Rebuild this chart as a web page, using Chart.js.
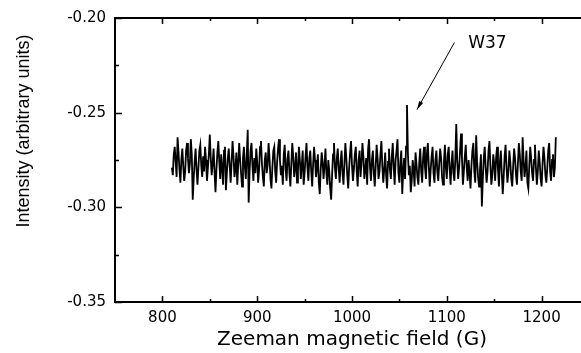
<!DOCTYPE html>
<html>
<head>
<meta charset="utf-8">
<script src="https://cdn.jsdelivr.net/npm/chart.js@4.4.1/dist/chart.umd.min.js"></script>
<style>
  html, body { margin: 0; padding: 0; background: #fff; overflow: hidden; }
  canvas { display: block; }
</style>
</head>
<body>
<canvas id="zeemanChart" width="600" height="353"></canvas>
<script>
// field grid (G): first point and spacing
const fieldStart = 810;
const fieldStep = 1;

// intensity, one value per gauss from 810 to 1215 G
const intensity = [
  -0.2790, -0.2830, -0.2720, -0.2680, -0.2760, -0.2840, -0.2630, -0.2710, -0.2800, -0.2870,
  -0.2750, -0.2690, -0.2780, -0.2860, -0.2810, -0.2700, -0.2660, -0.2740, -0.2820, -0.2770,
  -0.2640, -0.2720, -0.2960, -0.2850, -0.2760, -0.2690, -0.2800, -0.2880, -0.2790, -0.2700,
  -0.2670, -0.2780, -0.2840, -0.2730, -0.2810, -0.2680, -0.2750, -0.2860, -0.2790, -0.2720,
  -0.2616, -0.2740, -0.2830, -0.2770, -0.2690, -0.2810, -0.2920, -0.2800, -0.2710, -0.2650,
  -0.2760, -0.2850, -0.2720, -0.2790, -0.2880, -0.2700, -0.2680, -0.2910, -0.2820, -0.2740,
  -0.2690, -0.2780, -0.2870, -0.2760, -0.2650, -0.2730, -0.2840, -0.2800, -0.2710, -0.2880,
  -0.2770, -0.2660, -0.2750, -0.2820, -0.2890, -0.2740, -0.2680, -0.2790, -0.2850, -0.2720,
  -0.2590, -0.2975, -0.2810, -0.2700, -0.2660, -0.2780, -0.2860, -0.2740, -0.2820, -0.2690,
  -0.2760, -0.2870, -0.2800, -0.2680, -0.2650, -0.2770, -0.2840, -0.2890, -0.2750, -0.2710,
  -0.2820, -0.2780, -0.2660, -0.2740, -0.2850, -0.2900, -0.2790, -0.2700, -0.2680, -0.2810,
  -0.2870, -0.2760, -0.2690, -0.2640, -0.2750, -0.2830, -0.2780, -0.2880, -0.2720, -0.2670,
  -0.2800, -0.2860, -0.2740, -0.2700, -0.2820, -0.2890, -0.2770, -0.2660, -0.2730, -0.2840,
  -0.2790, -0.2710, -0.2870, -0.2810, -0.2680, -0.2750, -0.2850, -0.2780, -0.2700, -0.2880,
  -0.2820, -0.2730, -0.2660, -0.2790, -0.2860, -0.2740, -0.2700, -0.2810, -0.2890, -0.2770,
  -0.2680, -0.2750, -0.2840, -0.2790, -0.2720, -0.2870, -0.2930, -0.2800, -0.2710, -0.2760,
  -0.2850, -0.2780, -0.2690, -0.2820, -0.2880, -0.2750, -0.2810, -0.2900, -0.2960, -0.2830,
  -0.2720, -0.2660, -0.2790, -0.2850, -0.2740, -0.2690, -0.2800, -0.2870, -0.2760, -0.2700,
  -0.2820, -0.2880, -0.2770, -0.2660, -0.2740, -0.2830, -0.2900, -0.2790, -0.2710, -0.2650,
  -0.2780, -0.2860, -0.2800, -0.2720, -0.2680, -0.2810, -0.2890, -0.2750, -0.2700, -0.2840,
  -0.2770, -0.2660, -0.2730, -0.2850, -0.2800, -0.2740, -0.2880, -0.2690, -0.2640, -0.2790,
  -0.2860, -0.2750, -0.2700, -0.2820, -0.2890, -0.2780, -0.2670, -0.2740, -0.2850, -0.2810,
  -0.2720, -0.2650, -0.2780, -0.2870, -0.2800, -0.2710, -0.2830, -0.2900, -0.2760, -0.2690,
  -0.2800, -0.2850, -0.2730, -0.2660, -0.2790, -0.2880, -0.2750, -0.2700, -0.2640, -0.2820,
  -0.2870, -0.2760, -0.2700, -0.2930, -0.2810, -0.2740, -0.2850, -0.2680, -0.2460, -0.2720,
  -0.2830, -0.2780, -0.2920, -0.2860, -0.2750, -0.2800, -0.2890, -0.2710, -0.2770, -0.2840,
  -0.2880, -0.2760, -0.2690, -0.2810, -0.2870, -0.2740, -0.2680, -0.2790, -0.2850, -0.2720,
  -0.2660, -0.2780, -0.2890, -0.2800, -0.2730, -0.2680, -0.2820, -0.2870, -0.2750, -0.2700,
  -0.2810, -0.2860, -0.2770, -0.2690, -0.2740, -0.2840, -0.2880, -0.2760, -0.2670, -0.2790,
  -0.2850, -0.2720, -0.2680, -0.2800, -0.2880, -0.2770, -0.2700, -0.2820, -0.2860, -0.2740,
  -0.2560, -0.2760, -0.2850, -0.2790, -0.2700, -0.2610, -0.2740, -0.2880, -0.2810, -0.2730,
  -0.2670, -0.2790, -0.2860, -0.2750, -0.2820, -0.2900, -0.2780, -0.2700, -0.2660, -0.2810,
  -0.2870, -0.2620, -0.2760, -0.2840, -0.2890, -0.2800, -0.2720, -0.2995, -0.2850, -0.2740,
  -0.2680, -0.2790, -0.2870, -0.2810, -0.2700, -0.2650, -0.2780, -0.2880, -0.2830, -0.2720,
  -0.2770, -0.2860, -0.2740, -0.2680, -0.2800, -0.2890, -0.2760, -0.2700, -0.2820, -0.2930,
  -0.2840, -0.2730, -0.2670, -0.2790, -0.2870, -0.2810, -0.2700, -0.2760, -0.2850, -0.2890,
  -0.2780, -0.2690, -0.2740, -0.2830, -0.2880, -0.2770, -0.2660, -0.2720, -0.2810, -0.2860,
  -0.2630, -0.2750, -0.2840, -0.2790, -0.2700, -0.2870, -0.2900, -0.2780, -0.2680, -0.2740,
  -0.2820, -0.2860, -0.2750, -0.2670, -0.2790, -0.2880, -0.2810, -0.2700, -0.2760, -0.2850,
  -0.2890, -0.2770, -0.2680, -0.2740, -0.2830, -0.2870, -0.2790, -0.2700, -0.2660, -0.2810,
  -0.2860, -0.2750, -0.2720, -0.2840, -0.2790, -0.2630
];

// axis ticks
const xTickLabels = [800, 900, 1000, 1100, 1200];
const xMinorTicks = [850, 950, 1050, 1150];
const yTickLabels = [-0.35, -0.30, -0.25, -0.20];
const yMinorTicks = [-0.325, -0.275, -0.225];

const points = intensity.map((v, i) => ({ x: fieldStart + i * fieldStep, y: v }));

// frame, inward ticks, y title and the W37 arrow
const decorations = {
  id: "decorations",
  afterDatasetsDraw(chart) {
    const { ctx, chartArea: a, scales: { x, y } } = chart;
    ctx.save();
    ctx.strokeStyle = "#000";
    ctx.fillStyle = "#000";

    ctx.lineWidth = 2;
    ctx.strokeRect(a.left, a.top, a.right - a.left, a.bottom - a.top);

    ctx.lineWidth = 1.5;
    ctx.beginPath();
    xTickLabels.forEach((v) => {
      const px = Math.round(x.getPixelForValue(v)) + 0.5;
      ctx.moveTo(px, a.bottom); ctx.lineTo(px, a.bottom - 6);
      ctx.moveTo(px, a.top); ctx.lineTo(px, a.top + 6);
    });
    xMinorTicks.forEach((v) => {
      const px = Math.round(x.getPixelForValue(v)) + 0.5;
      ctx.moveTo(px, a.bottom); ctx.lineTo(px, a.bottom - 3);
      ctx.moveTo(px, a.top); ctx.lineTo(px, a.top + 3);
    });
    yTickLabels.forEach((v) => {
      const py = Math.round(y.getPixelForValue(v)) + 0.5;
      ctx.moveTo(a.left, py); ctx.lineTo(a.left + 7, py);
    });
    yMinorTicks.forEach((v) => {
      const py = Math.round(y.getPixelForValue(v)) + 0.5;
      ctx.moveTo(a.left, py); ctx.lineTo(a.left + 4, py);
    });
    ctx.stroke();

    // y title
    ctx.save();
    ctx.translate(24, 131);
    ctx.rotate(-Math.PI / 2);
    ctx.font = '18px "Liberation Sans", Arial, sans-serif';
    ctx.textAlign = "center";
    ctx.textBaseline = "middle";
    ctx.fillText("Intensity (arbitrary units)", 0, 0);
    ctx.restore();

    // W37 label and arrow
    const tx = x.getPixelForValue(1108), ty = y.getPixelForValue(-0.2130);
    const hx = x.getPixelForValue(1068.5), hy = y.getPixelForValue(-0.2484);
    ctx.lineWidth = 1;
    ctx.beginPath();
    ctx.moveTo(tx, ty);
    ctx.lineTo(hx, hy);
    ctx.stroke();
    const ang = Math.atan2(hy - ty, hx - tx);
    ctx.beginPath();
    ctx.moveTo(hx, hy);
    ctx.lineTo(hx - 9 * Math.cos(ang - 0.25), hy - 9 * Math.sin(ang - 0.25));
    ctx.lineTo(hx - 9 * Math.cos(ang + 0.25), hy - 9 * Math.sin(ang + 0.25));
    ctx.closePath();
    ctx.fill();

    ctx.font = '17px "DejaVu Sans", sans-serif';
    ctx.textAlign = "left";
    ctx.textBaseline = "middle";
    ctx.fillText("W37", x.getPixelForValue(1122.5), y.getPixelForValue(-0.2136));
    ctx.restore();
  },
};

new Chart(document.getElementById("zeemanChart"), {
  type: "line",
  data: {
    datasets: [
      {
        data: points,
        borderColor: "#000",
        borderWidth: 1.8,
        pointRadius: 0,
        tension: 0,
        fill: false,
      },
    ],
  },
  options: {
    responsive: false,
    animation: false,
    layout: { padding: { top: 18, right: 11, left: 0, bottom: 0 } },
    plugins: { legend: { display: false }, tooltip: { enabled: false } },
    scales: {
      x: {
        type: "linear",
        min: 750,
        max: 1250,
        afterBuildTicks: (s) => { s.ticks = xTickLabels.map((v) => ({ value: v })); },
        afterFit: (s) => { s.height = 51; },
        grid: { display: false, drawTicks: false },
        border: { display: false },
        ticks: {
          padding: 7,
          color: "#000",
          font: { family: "DejaVu Sans", size: 15 },
          callback: (v) => String(v),
        },
        title: {
          display: true,
          text: "Zeeman magnetic field (G)",
          color: "#000",
          font: { family: "DejaVu Sans", size: 20 },
          padding: { top: 0, bottom: 1 },
        },
      },
      y: {
        type: "linear",
        min: -0.35,
        max: -0.2,
        afterBuildTicks: (s) => { s.ticks = yTickLabels.map((v) => ({ value: v })); },
        afterFit: (s) => { s.width = 115; },
        grid: { display: false, drawTicks: false },
        border: { display: false },
        ticks: {
          padding: 9,
          color: "#000",
          font: { family: "DejaVu Sans", size: 15 },
          callback: (v) => v.toFixed(2),
        },
      },
    },
  },
  plugins: [decorations],
});
</script>
</body>
</html>
